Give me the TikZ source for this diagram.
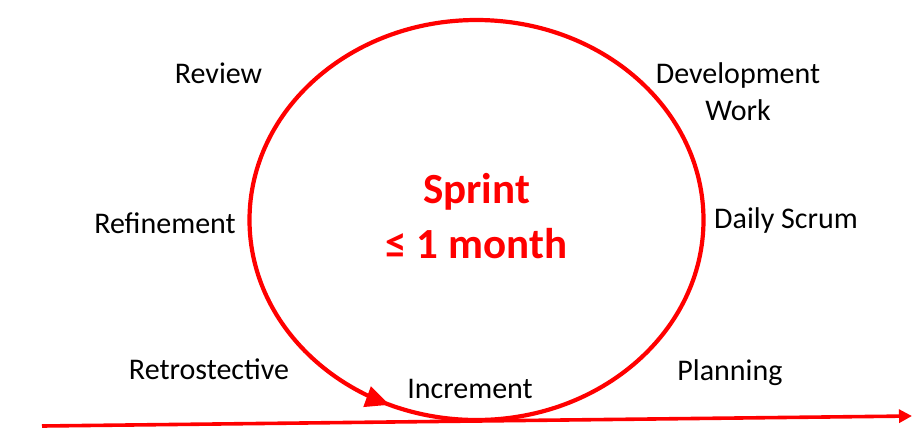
\documentclass[tikz,border=0pt]{standalone}
\usepackage{fontspec}
\setmainfont{Carlito}
\usetikzlibrary{arrows.meta, decorations.markings, shapes.geometric}

\begin{document}
\begin{tikzpicture}[
    x=1pt, y=-1pt,
    cycle line/.style={draw=red, line width=4.2pt},
    time line/.style={draw=red, line width=3.6pt, -{Triangle[length=13pt, width=13pt]}},
    phase/.style={font=\fontsize{30}{37}\selectfont, anchor=base, align=center, inner sep=0pt},
    title/.style={font=\fontsize{43}{55}\selectfont\bfseries, text=red, align=center, inner sep=0pt}
]

\useasboundingbox (0,0) rectangle (923,445);

% Sprint cycle
\node[title] (sprint) at (476.5,216) {Sprint\\ ≤ 1 month};
\draw[cycle line, postaction={decorate}, decoration={markings,
    mark=at position 0.316 with {\arrowreversed[red]{Triangle[length=24pt, width=21pt]}}}]
    (sprint.center) ++(0,4) ellipse [x radius=227, y radius=200];

% Events round the sprint
\foreach \name/\pos/\txt in {review/{218.5,83}/Review,
                             devwork/{738,120}/{Development\\Work},
                             refine/{165,233}/Refinement,
                             daily/{786,228}/Daily Scrum,
                             retro/{209,379}/Retrostective,
                             increment/{470,398}/Increment,
                             planning/{730,380}/Planning} {
    \node[phase] (\name) at (\pos) {\txt};
}

% Time line
\coordinate (start) at (42,426);
\coordinate (end) at (912,416);
\draw[time line] (start) -- (end);

\end{tikzpicture}
\end{document}
